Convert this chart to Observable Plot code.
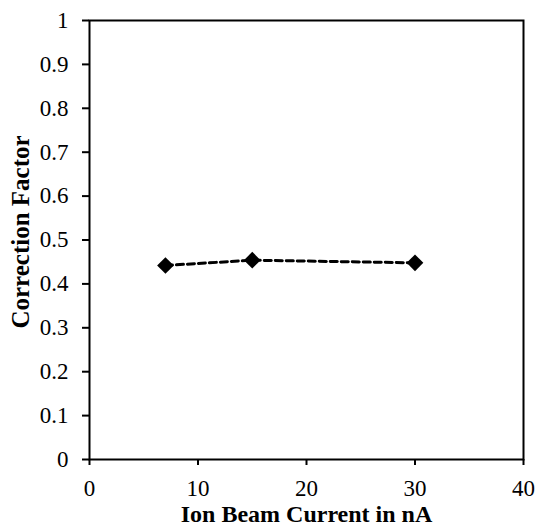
<!DOCTYPE html>
<html>
<head>
<meta charset="utf-8">
<script src="https://cdn.jsdelivr.net/npm/d3@7"></script>
<script src="https://cdn.jsdelivr.net/npm/@observablehq/plot@0.6"></script>
<style>
  html, body { margin: 0; padding: 0; background: #fff; }
  svg text, svg g { font-family: 'Liberation Serif', 'Times New Roman', serif !important; }
  g[aria-label="x-axis tick label"], g[aria-label="y-axis tick label"] { font-size: 23px !important; font-variant: normal !important; }
</style>
</head>
<body>
<div id="chart"></div>
<script>
const current = [7, 15, 30];
const factor = [0.442, 0.454, 0.448];
const xTicks = [0, 10, 20, 30, 40];
const yTicks = [0, 0.1, 0.2, 0.3, 0.4, 0.5, 0.6, 0.7, 0.8, 0.9, 1];
const yTickLabels = ["0", "0.1", "0.2", "0.3", "0.4", "0.5", "0.6", "0.7", "0.8", "0.9", "1"];
const xLabel = "Ion Beam Current in nA";
const yLabel = "Correction Factor";

const data = current.map((c, i) => ({current: c, factor: factor[i]}));
const font = "'Liberation Serif', 'Times New Roman', serif";

const chart = Plot.plot({
  width: 535,
  height: 532,
  marginLeft: 89,
  marginRight: 12,
  marginTop: 20,
  marginBottom: 73,
  style: {fontFamily: font, fontSize: "23px", background: "#fff", color: "#000"},
  x: {domain: [0, 40]},
  y: {domain: [0, 1]},
  marks: [
    Plot.frame({stroke: "#000", strokeWidth: 2}),
    Plot.axisX({ticks: xTicks, tickSize: 6, tickPadding: 14, fontSize: 23, fontFamily: font, strokeWidth: 2, label: null, tickFormat: d => String(d)}),
    Plot.axisY({ticks: yTicks, tickSize: 7, tickPadding: 14, fontSize: 23, fontFamily: font, strokeWidth: 2, label: null, tickFormat: (d, i) => yTickLabels[i]}),
    Plot.line(data, {x: "current", y: "factor", stroke: "#000", strokeWidth: 3, strokeDasharray: "7,4"}),
    Plot.dot(data, {x: "current", y: "factor", symbol: "diamond2", r: 7.5, fill: "#000", stroke: "none"}),
    Plot.text([xLabel], {frameAnchor: "bottom", textAnchor: "middle", dy: 62, fontSize: 24, fontFamily: font, fontWeight: "bold", fill: "#000"}),
    Plot.text([yLabel], {frameAnchor: "left", textAnchor: "middle", dx: -69, dy: -8, rotate: -90, fontSize: 25, fontFamily: font, fontWeight: "bold", fill: "#000"})
  ]
});
document.getElementById("chart").appendChild(chart);
</script>
</body>
</html>
